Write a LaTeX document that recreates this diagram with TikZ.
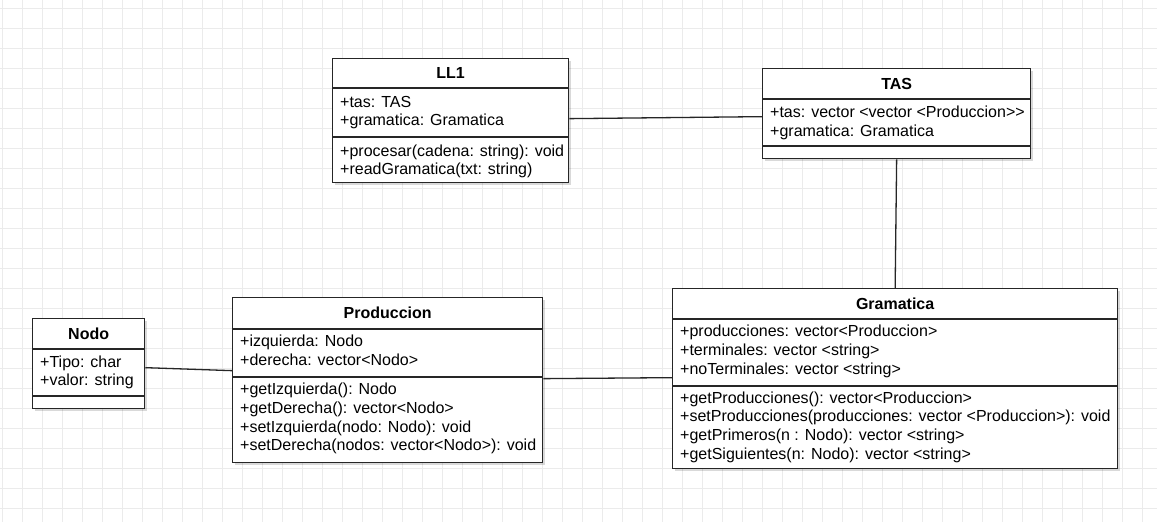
\documentclass[tikz,border=0pt]{standalone}
\usepackage{fontspec}
\setmainfont{Liberation Sans}[Ligatures=ResetAll]
\usetikzlibrary{shadows}
\definecolor{gridgray}{HTML}{EBEBEB}
\newcommand\classmembers[4]{%
  \foreach \txt [count=\i] in {#4} {%
    \node[member] (#1\i) at ([xshift=8pt,yshift={-(#3+(\i-1)*18.8)*1pt}]#2.north west) {\txt};}}
\newcommand\classdivider[2]{%
  \draw[divider] ([yshift=-#2pt]#1.north west) -- ([yshift=-#2pt]#1.north east);}
\begin{document}
\begin{tikzpicture}[x=1pt,y=-1pt,
  gridline/.style={draw=gridgray,line width=1pt},
  classbox/.style={draw=black!85,fill=white,line width=1.3pt,inner sep=0pt,anchor=north west,
    drop shadow={shadow xshift=2.5pt,shadow yshift=-2.5pt,fill=black,opacity=0.15}},
  divider/.style={draw=black!85,line width=1.3pt},
  classtitle/.style={font=\fontsize{16}{19}\bfseries\selectfont,anchor=base,inner sep=0pt},
  member/.style={font=\fontsize{16}{19}\selectfont,anchor=base west,inner sep=0pt},
  assoc/.style={draw=black!85,line width=1.3pt}]
\fill[white] (0,0) rectangle (1157,522);
\useasboundingbox (0,0) rectangle (1157,522);
\foreach \x in {2,22,...,1142} \draw[gridline] (\x,0) -- (\x,522);
\foreach \y in {8,28,...,508} \draw[gridline] (0,\y) -- (1157,\y);

% LL1
\node[classbox,minimum width=236pt,minimum height=124pt] (ll1) at (332,58) {};
\classdivider{ll1}{30}
\classdivider{ll1}{79}
\node[classtitle] (ll1t) at ([yshift=-20.75pt]ll1.north) {LL1};
\classmembers{ll1a}{ll1}{49}{+tas: TAS,+gramatica: Gramatica}
\classmembers{ll1m}{ll1}{98}{+procesar(cadena: string): void,+readGramatica(txt: string)}

% TAS
\node[classbox,minimum width=268pt,minimum height=90pt] (tas) at (762,68) {};
\classdivider{tas}{31}
\classdivider{tas}{78}
\node[classtitle] (tast) at ([yshift=-21.25pt]tas.north) {TAS};
\classmembers{tasa}{tas}{49.5}{+tas: vector <vector <Produccion>{}>,+gramatica: Gramatica}

% Nodo
\node[classbox,minimum width=112pt,minimum height=90pt] (nodo) at (32,318) {};
\classdivider{nodo}{31}
\classdivider{nodo}{78}
\node[classtitle] (nodot) at ([yshift=-21.25pt]nodo.north) {Nodo};
\classmembers{nodoa}{nodo}{49}{+Tipo: char,+valor: string}

% Produccion
\node[classbox,minimum width=310pt,minimum height=165pt] (prod) at (232,297) {};
\classdivider{prod}{32}
\classdivider{prod}{80}
\node[classtitle] (prodt) at ([yshift=-21.75pt]prod.north) {Produccion};
\classmembers{proda}{prod}{49.7}{+izquierda: Nodo,+derecha: vector<Nodo>}
\classmembers{prodm}{prod}{97.5}{+getIzquierda(): Nodo,+getDerecha(): vector<Nodo>,+setIzquierda(nodo: Nodo): void,+setDerecha(nodos: vector<Nodo>): void}

% Gramatica
\node[classbox,minimum width=445pt,minimum height=180pt] (gram) at (672,288) {};
\classdivider{gram}{31}
\classdivider{gram}{98}
\node[classtitle] (gramt) at ([yshift=-21.25pt]gram.north) {Gramatica};
\classmembers{grama}{gram}{48.7}{+producciones: vector<Produccion>,+terminales: vector <string>,+noTerminales: vector <string>}
\classmembers{gramm}{gram}{115}{+getProducciones(): vector<Produccion>,+setProducciones(producciones: vector <Produccion>): void,+getPrimeros(n : Nodo): vector <string>,+getSiguientes(n: Nodo): vector <string>}

% associations
\draw[assoc] ([yshift=2pt]ll1.east) -- ([yshift=-3pt]tas.west);
\draw[assoc] (tas.south) -- (gram.north);
\draw[assoc] ([yshift=-4pt]nodo.east) -- ([yshift=9.5pt]prod.west);
\draw[assoc] ([yshift=1.5pt]prod.east) -- ([yshift=1pt]gram.west);
\end{tikzpicture}
\end{document}
